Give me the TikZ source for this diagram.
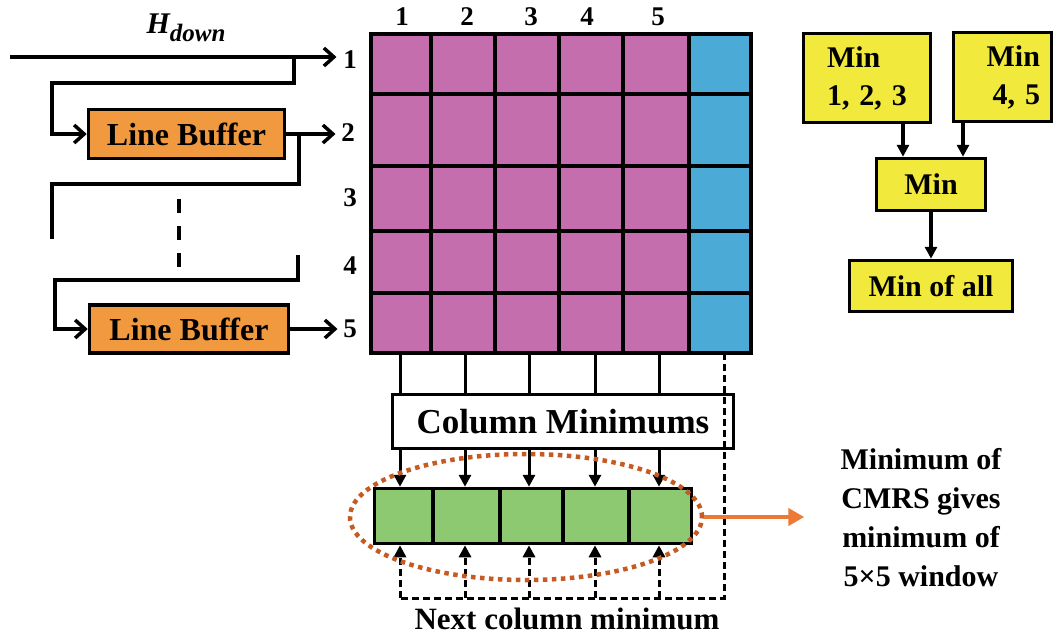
\documentclass[tikz,border=0pt]{standalone}
\usepackage{fontspec}
\setmainfont{Liberation Serif}
\usetikzlibrary{arrows.meta,shapes.geometric}
\definecolor{gridmag}{HTML}{C46EAE}
\definecolor{gridblue}{HTML}{4BABD6}
\definecolor{lbfill}{HTML}{F0993E}
\definecolor{cmgreen}{HTML}{8DC971}
\definecolor{ylw}{HTML}{F2E93D}
\definecolor{ellc}{HTML}{C55A22}
\definecolor{arrc}{HTML}{EC7A35}
\newcommand{\fs}[1]{\fontsize{#1}{#1}\selectfont\bfseries}
\newcommand{\fsl}[2]{\fontsize{#1}{#2}\selectfont\bfseries}
\begin{document}
\begin{tikzpicture}[x=1pt,y=-1pt,line width=3.5pt,
  lbbox/.style={draw,fill=lbfill,inner sep=0pt,font=\fs{32}},
  ybox/.style={draw,fill=ylw,inner sep=0pt,font=\fs{30}},
  lbl/.style={inner sep=2pt,font=\fs{27}},
  barb/.style={-{Straight Barb[length=10pt,width=18pt,line width=3.5pt]}},
  tri/.style={-{Triangle[length=12pt,width=12pt]}},
  dsh/.style={dash pattern=on 7pt off 4pt},
  ]
\useasboundingbox (0,0) rectangle (1055,638);

% ---------- grid ----------
\fill[gridmag] (371,34) rectangle (689,353);
\fill[gridblue] (689,34) rectangle (751,353);
\foreach \x in {431,495,559,623,689} \draw (\x,34) -- (\x,353);
\foreach \y in {94,166,231,293} \draw (371,\y) -- (751,\y);
\draw (371,34) rectangle (751,353);

% column / row labels
\foreach \x/\t in {402/1,467/2,531/3,587/4,658/5}
  \node[lbl] at (\x,17) {\t};
\node[lbl] (r1) at (350,60) {1};
\node[lbl] (r2) at (348,133) {2};
\node[lbl] (r3) at (350,198) {3};
\node[lbl] (r4) at (350,266) {4};
\node[lbl] (r5) at (350,329) {5};

% ---------- left side ----------
\node (hd) at (186,28) {\fs{30}\itshape H\raisebox{-8pt}{\fs{25}\itshape down}};
\node[lbbox,minimum width=196pt,minimum height=49pt] (lb1) at (186.5,134) {Line Buffer};
\node[lbbox,minimum width=199pt,minimum height=48pt] (lb2) at (189,329) {Line Buffer};
\coordinate (in) at (10,57);
\draw[barb] (in) -- ([xshift=-3pt]in -| r1.west);
\draw[barb] (294,57) |- (52,83) |- (lb1.west);
\draw[barb] (lb1.east) -- ([xshift=-2pt]lb1.east -| r2.west);
\draw (299,134) |- (52,184) -- (52,239);
\draw[dash pattern=on 14pt off 13pt] (179,199) -- (179,271);
\draw[barb] (298,255) |- (55,280) |- (lb2.west);
\draw[barb] (lb2.east) -- ([xshift=-2pt]lb2.east -| r5.west);

% ---------- column minimums ----------
\node[draw,fill=white,minimum width=341pt,minimum height=54pt,inner sep=0pt,font=\fs{35}] (cm) at (563,421.5) {Column Minimums};
\node[draw,fill=cmgreen,minimum width=317pt,minimum height=55pt,inner sep=0pt] (gr) at (533,516) {};
\foreach \x in {433,500,563,629} \draw (\x,488) -- (\x,544);

\foreach \i/\x in {1/400,2/465,3/529,4/595,5/659} \coordinate (c\i) at (\x,353);
\coordinate (c6) at (724,353);
\coordinate (base) at (400,598);
\foreach \i in {1,...,5} {
  \draw[line width=3pt] (c\i) -- (c\i |- cm.north);
  \draw[line width=3pt,tri] (c\i |- cm.south) -- (c\i |- gr.north);
  \draw[line width=3pt,dsh,tri] (c\i |- base) -- (c\i |- gr.south);
}
\draw[line width=3pt,dsh] (c6) -- (c6 |- base) -- (base);

\node[ellipse,draw=ellc,line width=4.5pt,dash pattern=on 4.5pt off 4.5pt,minimum width=352pt,minimum height=126pt,inner sep=0pt] (ring) at (526,517) {};
\draw[arrc,line width=4pt,-{Triangle[length=16pt,width=17pt]}] (ring.east) -- ++(100,0) coordinate (tip);
\node[align=center,font={\fsl{30}{39}},inner sep=0pt] (note) at (921,518)
  {Minimum of\\CMRS gives\\minimum of\\5×5 window};
\node[font=\fs{31},inner sep=0pt] (ncm) at (567,619) {Next column minimum};

% ---------- yellow tree ----------
\node[ybox,font={\fsl{30}{38}},minimum width=127pt,minimum height=89pt,text width=80pt,align=left] (y1) at (867,78)
  {Min\\1, 2, 3};
\node[ybox,font={\fsl{30}{38}},minimum width=98pt,minimum height=89pt,text width=75pt,align=right] (y2) at (1002.5,77)
  {Min\\4, 5};
\node[ybox,minimum width=109pt,minimum height=52pt] (mn) at (931,184.5) {Min};
\node[ybox,minimum width=163pt,minimum height=51pt] (ma) at (931,286) {Min of all};
\draw[tri] ([xshift=36pt]y1.south) -- ([xshift=36pt]y1.south |- mn.north);
\draw[tri] ([xshift=-39.5pt]y2.south) -- ([xshift=-39.5pt]y2.south |- mn.north);
\draw[tri] (mn.south) -- (ma.north);
\end{tikzpicture}
\end{document}
